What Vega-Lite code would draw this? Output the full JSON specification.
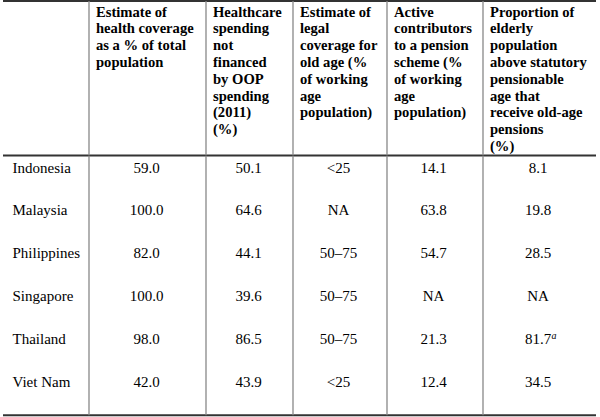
{
  "$schema": "https://vega.github.io/schema/vega-lite/v6.json",
  "background": "white",
  "autosize": {"type": "pad"},
  "padding": {"left": 2, "top": 0, "right": 0, "bottom": 0},
  "bounds": "flush",
  "spacing": 0,
  "columns": 6,
  "config": {
    "view": {"stroke": null},
    "text": {"font": "Liberation Serif", "color": "#000000"}
  },
  "datasets": {
    "rows": [
      {"Country": "Indonesia", "health_coverage": "59.0", "health_spending": "50.1", "legal_coverage": "<25", "active_contributors": "14.1", "elderly_pensions": "8.1"},
      {"Country": "Malaysia", "health_coverage": "100.0", "health_spending": "64.6", "legal_coverage": "NA", "active_contributors": "63.8", "elderly_pensions": "19.8"},
      {"Country": "Philippines", "health_coverage": "82.0", "health_spending": "44.1", "legal_coverage": "50–75", "active_contributors": "54.7", "elderly_pensions": "28.5"},
      {"Country": "Singapore", "health_coverage": "100.0", "health_spending": "39.6", "legal_coverage": "50–75", "active_contributors": "NA", "elderly_pensions": "NA"},
      {"Country": "Thailand", "health_coverage": "98.0", "health_spending": "86.5", "legal_coverage": "50–75", "active_contributors": "21.3", "elderly_pensions": "81.7", "elderly_pensions_note": "a"},
      {"Country": "Viet Nam", "health_coverage": "42.0", "health_spending": "43.9", "legal_coverage": "<25", "active_contributors": "12.4", "elderly_pensions": "34.5"}
    ],
    "headers": [
      {"col": "health_coverage", "lines": ["Estimate of", "health coverage", "as a % of total", "population"]},
      {"col": "health_spending", "lines": ["Healthcare", "spending", "not", "financed", "by OOP", "spending", "(2011)", "(%)"]},
      {"col": "legal_coverage", "lines": ["Estimate of", "legal", "coverage for", "old age (%", "of working", "age", "population)"]},
      {"col": "active_contributors", "lines": ["Active", "contributors", "to a pension", "scheme (%", "of working", "age", "population)"]},
      {"col": "elderly_pensions", "lines": ["Proportion of", "elderly", "population", "above statutory", "pensionable", "age that", "receive old-age", "pensions", "(%)"]}
    ],
    "edges": [{"edge": "top"}, {"edge": "bottom"}]
  },
  "concat": [
    {
      "width": 86, "height": 154.5,
      "layer": [
        {"data": {"name": "edges"}, "mark": {"type": "rule", "color": "#333333", "strokeWidth": 2},
         "encoding": {"y": {"field": "edge", "type": "nominal", "scale": {"type": "point", "domain": ["top", "bottom"], "padding": 0}, "axis": null}}}
      ]
    },
    {
      "width": 117, "height": 154.5,
      "layer": [
        {"data": {"name": "edges"}, "mark": {"type": "rule", "color": "#333333", "strokeWidth": 2},
         "encoding": {"y": {"field": "edge", "type": "nominal", "scale": {"type": "point", "domain": ["top", "bottom"], "padding": 0}, "axis": null}}},
        {"data": {"name": "edges"}, "transform": [{"filter": "datum.edge === 'top'"}], "mark": {"type": "rule", "color": "#888888", "strokeWidth": 1.3},
         "encoding": {"x": {"datum": "left", "type": "nominal", "scale": {"type": "point", "domain": ["left", "right"], "padding": 0}, "axis": null}}},
        {"data": {"name": "headers"}, "transform": [{"filter": "datum.col === 'health_coverage'"}],
         "mark": {"type": "text", "align": "left", "baseline": "top", "dx": 7, "dy": 3.5, "fontSize": 14.6, "fontWeight": "bold", "lineHeight": 16.8},
         "encoding": {
           "x": {"datum": "left", "type": "nominal", "scale": {"type": "point", "domain": ["left", "right"], "padding": 0}, "axis": null},
           "y": {"datum": "top", "type": "nominal", "scale": {"type": "point", "domain": ["top", "bottom"], "padding": 0}, "axis": null},
           "text": {"field": "lines"}}}
      ]
    },
    {
      "width": 87, "height": 154.5,
      "layer": [
        {"data": {"name": "edges"}, "mark": {"type": "rule", "color": "#333333", "strokeWidth": 2},
         "encoding": {"y": {"field": "edge", "type": "nominal", "scale": {"type": "point", "domain": ["top", "bottom"], "padding": 0}, "axis": null}}},
        {"data": {"name": "edges"}, "transform": [{"filter": "datum.edge === 'top'"}], "mark": {"type": "rule", "color": "#888888", "strokeWidth": 1.3},
         "encoding": {"x": {"datum": "left", "type": "nominal", "scale": {"type": "point", "domain": ["left", "right"], "padding": 0}, "axis": null}}},
        {"data": {"name": "headers"}, "transform": [{"filter": "datum.col === 'health_spending'"}],
         "mark": {"type": "text", "align": "left", "baseline": "top", "dx": 7, "dy": 3.5, "fontSize": 14.6, "fontWeight": "bold", "lineHeight": 16.8},
         "encoding": {
           "x": {"datum": "left", "type": "nominal", "scale": {"type": "point", "domain": ["left", "right"], "padding": 0}, "axis": null},
           "y": {"datum": "top", "type": "nominal", "scale": {"type": "point", "domain": ["top", "bottom"], "padding": 0}, "axis": null},
           "text": {"field": "lines"}}}
      ]
    },
    {
      "width": 94, "height": 154.5,
      "layer": [
        {"data": {"name": "edges"}, "mark": {"type": "rule", "color": "#333333", "strokeWidth": 2},
         "encoding": {"y": {"field": "edge", "type": "nominal", "scale": {"type": "point", "domain": ["top", "bottom"], "padding": 0}, "axis": null}}},
        {"data": {"name": "edges"}, "transform": [{"filter": "datum.edge === 'top'"}], "mark": {"type": "rule", "color": "#888888", "strokeWidth": 1.3},
         "encoding": {"x": {"datum": "left", "type": "nominal", "scale": {"type": "point", "domain": ["left", "right"], "padding": 0}, "axis": null}}},
        {"data": {"name": "headers"}, "transform": [{"filter": "datum.col === 'legal_coverage'"}],
         "mark": {"type": "text", "align": "left", "baseline": "top", "dx": 7, "dy": 3.5, "fontSize": 14.6, "fontWeight": "bold", "lineHeight": 16.8},
         "encoding": {
           "x": {"datum": "left", "type": "nominal", "scale": {"type": "point", "domain": ["left", "right"], "padding": 0}, "axis": null},
           "y": {"datum": "top", "type": "nominal", "scale": {"type": "point", "domain": ["top", "bottom"], "padding": 0}, "axis": null},
           "text": {"field": "lines"}}}
      ]
    },
    {
      "width": 96, "height": 154.5,
      "layer": [
        {"data": {"name": "edges"}, "mark": {"type": "rule", "color": "#333333", "strokeWidth": 2},
         "encoding": {"y": {"field": "edge", "type": "nominal", "scale": {"type": "point", "domain": ["top", "bottom"], "padding": 0}, "axis": null}}},
        {"data": {"name": "edges"}, "transform": [{"filter": "datum.edge === 'top'"}], "mark": {"type": "rule", "color": "#888888", "strokeWidth": 1.3},
         "encoding": {"x": {"datum": "left", "type": "nominal", "scale": {"type": "point", "domain": ["left", "right"], "padding": 0}, "axis": null}}},
        {"data": {"name": "headers"}, "transform": [{"filter": "datum.col === 'active_contributors'"}],
         "mark": {"type": "text", "align": "left", "baseline": "top", "dx": 7, "dy": 3.5, "fontSize": 14.6, "fontWeight": "bold", "lineHeight": 16.8},
         "encoding": {
           "x": {"datum": "left", "type": "nominal", "scale": {"type": "point", "domain": ["left", "right"], "padding": 0}, "axis": null},
           "y": {"datum": "top", "type": "nominal", "scale": {"type": "point", "domain": ["top", "bottom"], "padding": 0}, "axis": null},
           "text": {"field": "lines"}}}
      ]
    },
    {
      "width": 113, "height": 154.5,
      "layer": [
        {"data": {"name": "edges"}, "mark": {"type": "rule", "color": "#333333", "strokeWidth": 2},
         "encoding": {"y": {"field": "edge", "type": "nominal", "scale": {"type": "point", "domain": ["top", "bottom"], "padding": 0}, "axis": null}}},
        {"data": {"name": "edges"}, "transform": [{"filter": "datum.edge === 'top'"}], "mark": {"type": "rule", "color": "#888888", "strokeWidth": 1.3},
         "encoding": {"x": {"datum": "left", "type": "nominal", "scale": {"type": "point", "domain": ["left", "right"], "padding": 0}, "axis": null}}},
        {"data": {"name": "headers"}, "transform": [{"filter": "datum.col === 'elderly_pensions'"}],
         "mark": {"type": "text", "align": "left", "baseline": "top", "dx": 7, "dy": 3.5, "fontSize": 14.6, "fontWeight": "bold", "lineHeight": 16.8},
         "encoding": {
           "x": {"datum": "left", "type": "nominal", "scale": {"type": "point", "domain": ["left", "right"], "padding": 0}, "axis": null},
           "y": {"datum": "top", "type": "nominal", "scale": {"type": "point", "domain": ["top", "bottom"], "padding": 0}, "axis": null},
           "text": {"field": "lines"}}}
      ]
    },
    {
      "width": 86, "height": 259.3,
      "resolve": {"scale": {"y": "independent"}},
      "layer": [
        {"data": {"name": "edges"}, "transform": [{"filter": "datum.edge === 'bottom'"}], "mark": {"type": "rule", "color": "#333333", "strokeWidth": 2},
         "encoding": {"y": {"field": "edge", "type": "nominal", "scale": {"type": "point", "domain": ["top", "bottom"], "padding": 0}, "axis": null}}},
        {"data": {"name": "rows"}, "mark": {"type": "text", "align": "left", "baseline": "middle", "dx": 9.5, "fontSize": 15},
         "encoding": {
           "x": {"datum": "left", "type": "nominal", "scale": {"type": "point", "domain": ["left", "right"], "padding": 0}, "axis": null},
           "y": {"field": "Country", "type": "nominal", "scale": {"type": "point", "domain": ["Indonesia", "Malaysia", "Philippines", "Singapore", "Thailand", "Viet Nam"], "padding": 0.522, "align": 0.257}, "axis": null},
           "text": {"field": "Country"}}}
      ]
    },
    {
      "width": 117, "height": 259.3,
      "resolve": {"scale": {"y": "independent"}},
      "layer": [
        {"data": {"name": "edges"}, "transform": [{"filter": "datum.edge === 'bottom'"}], "mark": {"type": "rule", "color": "#333333", "strokeWidth": 2},
         "encoding": {"y": {"field": "edge", "type": "nominal", "scale": {"type": "point", "domain": ["top", "bottom"], "padding": 0}, "axis": null}}},
        {"data": {"name": "edges"}, "transform": [{"filter": "datum.edge === 'top'"}], "mark": {"type": "rule", "color": "#888888", "strokeWidth": 1.3},
         "encoding": {"x": {"datum": "left", "type": "nominal", "scale": {"type": "point", "domain": ["left", "right"], "padding": 0}, "axis": null}}},
        {"data": {"name": "rows"}, "mark": {"type": "text", "align": "center", "baseline": "middle", "dx": -1, "fontSize": 15},
         "encoding": {
           "y": {"field": "Country", "type": "nominal", "scale": {"type": "point", "domain": ["Indonesia", "Malaysia", "Philippines", "Singapore", "Thailand", "Viet Nam"], "padding": 0.522, "align": 0.257}, "axis": null},
           "text": {"field": "health_coverage"}}}
      ]
    },
    {
      "width": 87, "height": 259.3,
      "resolve": {"scale": {"y": "independent"}},
      "layer": [
        {"data": {"name": "edges"}, "transform": [{"filter": "datum.edge === 'bottom'"}], "mark": {"type": "rule", "color": "#333333", "strokeWidth": 2},
         "encoding": {"y": {"field": "edge", "type": "nominal", "scale": {"type": "point", "domain": ["top", "bottom"], "padding": 0}, "axis": null}}},
        {"data": {"name": "edges"}, "transform": [{"filter": "datum.edge === 'top'"}], "mark": {"type": "rule", "color": "#888888", "strokeWidth": 1.3},
         "encoding": {"x": {"datum": "left", "type": "nominal", "scale": {"type": "point", "domain": ["left", "right"], "padding": 0}, "axis": null}}},
        {"data": {"name": "rows"}, "mark": {"type": "text", "align": "center", "baseline": "middle", "dx": -1, "fontSize": 15},
         "encoding": {
           "y": {"field": "Country", "type": "nominal", "scale": {"type": "point", "domain": ["Indonesia", "Malaysia", "Philippines", "Singapore", "Thailand", "Viet Nam"], "padding": 0.522, "align": 0.257}, "axis": null},
           "text": {"field": "health_spending"}}}
      ]
    },
    {
      "width": 94, "height": 259.3,
      "resolve": {"scale": {"y": "independent"}},
      "layer": [
        {"data": {"name": "edges"}, "transform": [{"filter": "datum.edge === 'bottom'"}], "mark": {"type": "rule", "color": "#333333", "strokeWidth": 2},
         "encoding": {"y": {"field": "edge", "type": "nominal", "scale": {"type": "point", "domain": ["top", "bottom"], "padding": 0}, "axis": null}}},
        {"data": {"name": "edges"}, "transform": [{"filter": "datum.edge === 'top'"}], "mark": {"type": "rule", "color": "#888888", "strokeWidth": 1.3},
         "encoding": {"x": {"datum": "left", "type": "nominal", "scale": {"type": "point", "domain": ["left", "right"], "padding": 0}, "axis": null}}},
        {"data": {"name": "rows"}, "mark": {"type": "text", "align": "center", "baseline": "middle", "dx": -1.5, "fontSize": 15},
         "encoding": {
           "y": {"field": "Country", "type": "nominal", "scale": {"type": "point", "domain": ["Indonesia", "Malaysia", "Philippines", "Singapore", "Thailand", "Viet Nam"], "padding": 0.522, "align": 0.257}, "axis": null},
           "text": {"field": "legal_coverage"}}}
      ]
    },
    {
      "width": 96, "height": 259.3,
      "resolve": {"scale": {"y": "independent"}},
      "layer": [
        {"data": {"name": "edges"}, "transform": [{"filter": "datum.edge === 'bottom'"}], "mark": {"type": "rule", "color": "#333333", "strokeWidth": 2},
         "encoding": {"y": {"field": "edge", "type": "nominal", "scale": {"type": "point", "domain": ["top", "bottom"], "padding": 0}, "axis": null}}},
        {"data": {"name": "edges"}, "transform": [{"filter": "datum.edge === 'top'"}], "mark": {"type": "rule", "color": "#888888", "strokeWidth": 1.3},
         "encoding": {"x": {"datum": "left", "type": "nominal", "scale": {"type": "point", "domain": ["left", "right"], "padding": 0}, "axis": null}}},
        {"data": {"name": "rows"}, "mark": {"type": "text", "align": "center", "baseline": "middle", "dx": -1.5, "fontSize": 15},
         "encoding": {
           "y": {"field": "Country", "type": "nominal", "scale": {"type": "point", "domain": ["Indonesia", "Malaysia", "Philippines", "Singapore", "Thailand", "Viet Nam"], "padding": 0.522, "align": 0.257}, "axis": null},
           "text": {"field": "active_contributors"}}}
      ]
    },
    {
      "width": 113, "height": 259.3,
      "resolve": {"scale": {"y": "independent"}},
      "layer": [
        {"data": {"name": "edges"}, "transform": [{"filter": "datum.edge === 'bottom'"}], "mark": {"type": "rule", "color": "#333333", "strokeWidth": 2},
         "encoding": {"y": {"field": "edge", "type": "nominal", "scale": {"type": "point", "domain": ["top", "bottom"], "padding": 0}, "axis": null}}},
        {"data": {"name": "edges"}, "transform": [{"filter": "datum.edge === 'top'"}], "mark": {"type": "rule", "color": "#888888", "strokeWidth": 1.3},
         "encoding": {"x": {"datum": "left", "type": "nominal", "scale": {"type": "point", "domain": ["left", "right"], "padding": 0}, "axis": null}}},
        {"data": {"name": "rows"}, "mark": {"type": "text", "align": "center", "baseline": "middle", "dx": -1.5, "fontSize": 15},
         "encoding": {
           "y": {"field": "Country", "type": "nominal", "scale": {"type": "point", "domain": ["Indonesia", "Malaysia", "Philippines", "Singapore", "Thailand", "Viet Nam"], "padding": 0.522, "align": 0.257}, "axis": null},
           "text": {"field": "elderly_pensions"}}},
        {"data": {"name": "rows"}, "transform": [{"filter": "datum.elderly_pensions_note"}],
         "mark": {"type": "text", "align": "left", "baseline": "middle", "dx": 12, "dy": -3, "fontSize": 10, "fontStyle": "italic"},
         "encoding": {
           "y": {"field": "Country", "type": "nominal", "scale": {"type": "point", "domain": ["Indonesia", "Malaysia", "Philippines", "Singapore", "Thailand", "Viet Nam"], "padding": 0.522, "align": 0.257}, "axis": null},
           "text": {"field": "elderly_pensions_note"}}}
      ]
    }
  ]
}
